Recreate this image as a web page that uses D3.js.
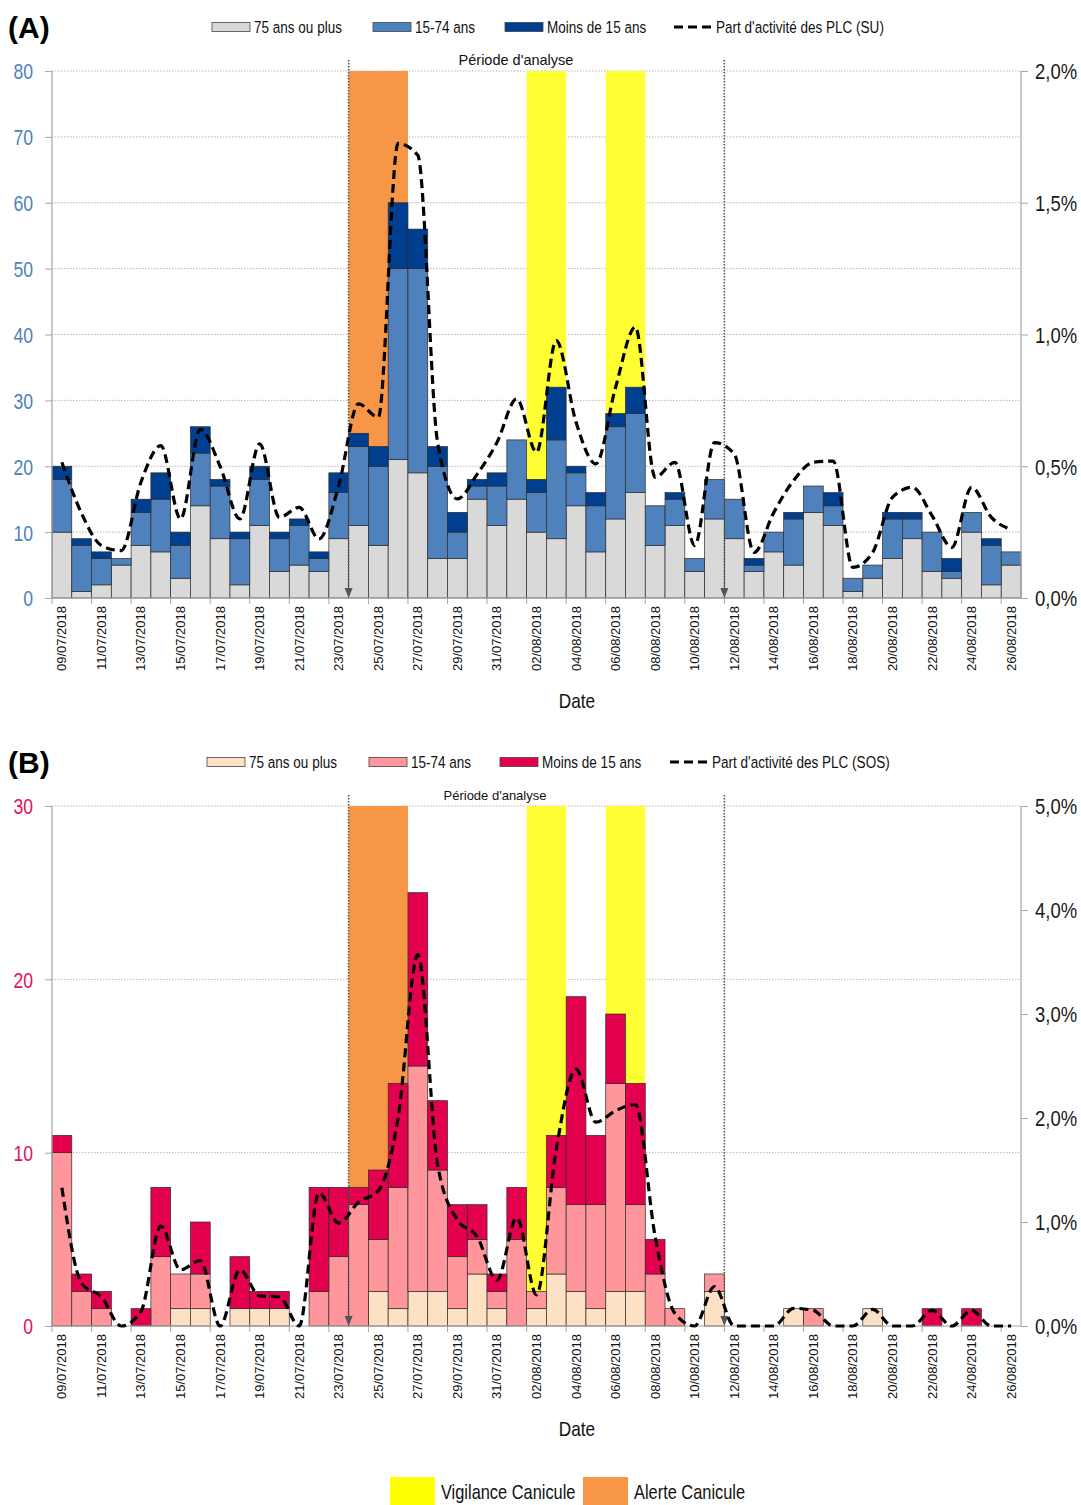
<!DOCTYPE html>
<html><head><meta charset="utf-8">
<script src="https://cdn.jsdelivr.net/npm/d3@7/dist/d3.min.js"></script>
<style>body{margin:0;background:#fff} svg{display:block}</style>
</head><body><svg id="c" width="1081" height="1505"></svg>
<script>
// ---------- DATA ----------
const dates = ["09/07/2018","10/07/2018","11/07/2018","12/07/2018","13/07/2018","14/07/2018","15/07/2018","16/07/2018","17/07/2018","18/07/2018",
"19/07/2018","20/07/2018","21/07/2018","22/07/2018","23/07/2018","24/07/2018","25/07/2018","26/07/2018","27/07/2018","28/07/2018",
"29/07/2018","30/07/2018","31/07/2018","01/08/2018","02/08/2018","03/08/2018","04/08/2018","05/08/2018","06/08/2018","07/08/2018",
"08/08/2018","09/08/2018","10/08/2018","11/08/2018","12/08/2018","13/08/2018","14/08/2018","15/08/2018","16/08/2018","17/08/2018",
"18/08/2018","19/08/2018","20/08/2018","21/08/2018","22/08/2018","23/08/2018","24/08/2018","25/08/2018","26/08/2018"];

// Panel A : SU
const suOld   = [10,1,2,5,8,7,3,14,9,2,11,4,5,4,9,11,8,21,19,6,6,15,11,15,10,9,14,7,12,16,8,11,4,12,9,4,7,5,13,11,1,3,6,9,4,3,10,2,5];
const suMid   = [8,7,4,1,5,8,5,8,8,7,7,5,6,2,7,12,12,29,31,14,4,2,6,9,6,15,5,7,14,12,6,4,2,6,6,1,3,7,4,3,2,2,6,3,6,1,3,6,2];
const suYoung = [2,1,1,0,2,4,2,4,1,1,2,1,1,1,3,2,3,10,6,3,3,1,2,0,2,8,1,2,2,4,0,1,0,0,0,1,0,1,0,2,0,0,1,1,0,2,0,1,0];
const suShare = [0.515,0.32,0.199,0.18,0.44,0.578,0.30,0.64,0.50,0.30,0.585,0.306,0.344,0.224,0.427,0.737,0.686,1.725,1.68,0.59,
                 0.376,0.47,0.59,0.756,0.553,0.977,0.667,0.509,0.80,1.028,0.458,0.515,0.199,0.59,0.547,0.173,0.325,0.446,0.515,0.52,
                 0.116,0.173,0.382,0.42,0.313,0.192,0.42,0.306,0.26];

// Panel B : SOS
const sosOld   = [0,0,0,0,0,0,1,1,0,1,1,1,0,0,0,0,2,1,2,2,1,3,1,0,1,3,2,1,2,2,0,0,0,2,0,0,0,1,0,0,0,1,0,0,0,0,0,0,0];
const sosMid   = [10,2,1,0,0,4,2,2,0,0,0,0,0,2,4,7,3,7,13,7,3,2,1,5,1,5,5,6,12,5,3,1,0,1,0,0,0,0,1,0,0,0,0,0,0,0,0,0,0];
const sosYoung = [1,1,1,0,1,4,0,3,0,3,1,1,0,6,4,1,4,6,10,4,3,2,1,3,0,3,12,4,4,7,2,0,0,0,0,0,0,0,0,0,0,0,0,0,1,0,1,0,0];
const sosShare = [1.33,0.41,0.28,0,0.14,0.96,0.54,0.63,0,0.54,0.29,0.28,0,1.28,0.99,1.19,1.30,2.0,3.57,1.55,
                  1.02,0.86,0.44,1.04,0.30,1.70,2.47,1.96,2.07,2.13,0.86,0.12,0,0.38,0,0,0,0.17,0.15,0,
                  0,0.16,0,0,0.15,0,0.15,0,0];

const ageLabels = ["75 ans ou plus","15-74 ans","Moins de 15 ans"];
const leftTicksA = [0,10,20,30,40,50,60,70,80];
const rightTicksA = [0,0.5,1.0,1.5,2.0];
const leftTicksB = [0,10,20,30];
const rightTicksB = [0,1,2,3,4,5];

// heat-wave periods (category ranges)
const alerte = [["24/07/2018","26/07/2018"]];
const vigilance = [["02/08/2018","03/08/2018"],["06/08/2018","07/08/2018"]];
const periode = ["24/07/2018","12/08/2018"]; // analysis period boundaries (left edges)

// ---------- DRAW ----------
const svg = d3.select('#c');
const SANS = "'Liberation Sans',Arial,sans-serif";
const X0 = 52, X1 = 1021;
const x = d3.scaleBand().domain(dates).range([X0, X1]).padding(0);

function fmtPct(v){ return v.toFixed(1).replace('.', ',') + '%'; }
// emulate a narrow (condensed) font: horizontal scale around the anchor point
function narrow(sel, k){
  k = k || 0.82;
  sel.each(function(){
    const xv = +(this.getAttribute('x') || 0);
    this.setAttribute('x', xv / k);
    const t = this.getAttribute('transform') || '';
    this.setAttribute('transform', (t + ` scale(${k},1)`).trim());
  });
}

function panel(cfg){
  const g = svg.append('g');
  const yL = d3.scaleLinear().domain([0, cfg.leftMax]).range([cfg.bottom, cfg.top]);
  const yR = d3.scaleLinear().domain([0, cfg.rightMax]).range([cfg.bottom, cfg.top]);

  // gridlines
  g.selectAll('.grid').data(cfg.leftTicks.filter(d=>d>0)).join('line')
    .attr('x1', X0).attr('x2', X1).attr('y1', d=>yL(d)).attr('y2', d=>yL(d))
    .attr('stroke', '#a6a6a6').attr('stroke-width', 0.8).attr('stroke-dasharray', '1.5,1.5');

  // heat-wave bands
  const band = (ranges, color) => g.selectAll(null).data(ranges).join('rect')
    .attr('x', d=>x(d[0])).attr('width', d=>x(d[1]) + x.bandwidth() - x(d[0]))
    .attr('y', cfg.top).attr('height', cfg.bottom - cfg.top).attr('fill', color);
  band(alerte, '#f79646');
  band(vigilance, '#ffff33');

  // stacked bars
  const rows = dates.map((d,i)=>({date:d, a:cfg.series[0][i], b:cfg.series[1][i], c:cfg.series[2][i]}));
  const stack = d3.stack().keys(['a','b','c'])(rows);
  stack.forEach((layer, li) => {
    g.selectAll(null).data(layer.filter(s => s[1] > s[0])).join('rect')
      .attr('x', s=>x(s.data.date)).attr('width', x.bandwidth())
      .attr('y', s=>yL(s[1])).attr('height', s=>yL(s[0]) - yL(s[1]))
      .attr('fill', cfg.colors[li]).attr('stroke', '#2b2b2b').attr('stroke-width', 0.7);
  });

  // axes lines
  g.append('line').attr('x1', X0).attr('x2', X0).attr('y1', cfg.top).attr('y2', cfg.bottom).attr('stroke', '#a6a6a6').attr('stroke-width', 1.2);
  g.append('line').attr('x1', X1).attr('x2', X1).attr('y1', cfg.top).attr('y2', cfg.bottom).attr('stroke', '#a6a6a6').attr('stroke-width', 1.2);
  g.append('line').attr('x1', X0).attr('x2', X1).attr('y1', cfg.bottom).attr('y2', cfg.bottom).attr('stroke', '#a6a6a6').attr('stroke-width', 1.2);

  // left axis
  const la = g.append('g').attr('transform', `translate(${X0},0)`)
    .call(d3.axisLeft(yL).tickValues(cfg.leftTicks).tickSize(7).tickPadding(12).tickFormat(d3.format('d')));
  la.select('.domain').remove();
  la.selectAll('line').attr('stroke', '#a6a6a6');
  la.selectAll('text').attr('fill', cfg.labelColor).style('font-family', SANS).style('font-size', '22px').attr('dy', '0.36em')
    .call(narrow, 0.8);

  // right axis
  const ra = g.append('g').attr('transform', `translate(${X1},0)`)
    .call(d3.axisRight(yR).tickValues(cfg.rightTicks).tickSize(7).tickPadding(7).tickFormat(fmtPct));
  ra.select('.domain').remove();
  ra.selectAll('line').attr('stroke', '#a6a6a6');
  ra.selectAll('text').attr('fill', '#1a1a1a').style('font-family', SANS).style('font-size', '22px').attr('dy', '0.36em')
    .call(narrow, 0.84);

  // x ticks (every two categories) and labels
  const shown = dates.filter((d,i)=> i % 2 === 0);
  g.selectAll(null).data(shown).join('line')
    .attr('x1', d=>x(d)).attr('x2', d=>x(d)).attr('y1', cfg.bottom).attr('y2', cfg.bottom + 6)
    .attr('stroke', '#a6a6a6');
  g.selectAll(null).data(shown).join('text')
    .attr('transform', d=>`translate(${x(d) + x.bandwidth()/2 + 4.5},${cfg.bottom + 8}) rotate(-90)`)
    .attr('text-anchor', 'end').style('font-family', SANS).style('font-size', '13px').attr('fill', '#111')
    .text(d=>d);

  // axis title
  g.append('text').attr('x', 577).attr('y', cfg.bottom + 110).attr('text-anchor', 'middle')
    .style('font-family', SANS).style('font-size', '21px').attr('fill', '#111').text('Date').call(narrow, 0.82);

  // analysis period dotted lines
  periode.forEach(p => {
    const px = x(p);
    g.append('line').attr('x1', px).attr('x2', px).attr('y1', cfg.top - 11).attr('y2', cfg.bottom - 4)
      .attr('stroke', '#555').attr('stroke-width', 1.6).attr('stroke-dasharray', '1.6,1.4');
    g.append('path').attr('d', `M${px-4},${cfg.bottom-10} L${px+4},${cfg.bottom-10} L${px},${cfg.bottom} Z`).attr('fill', '#555');
  });
  g.append('text').attr('x', cfg.periodX).attr('y', cfg.top - 6).attr('text-anchor', 'middle')
    .style('font-family', SANS).style('font-size', cfg.periodSize).attr('fill', '#111').text("Période d'analyse");

  // share line
  const line = d3.line().x((d,i)=>x(dates[i]) + x.bandwidth()/2).y(d=>yR(d)).curve(d3.curveMonotoneX);
  g.append('path').attr('d', line(cfg.share)).attr('fill', 'none').attr('stroke', '#000')
    .attr('stroke-width', 3.2).attr('stroke-dasharray', '9,5');

  // panel letter
  g.append('text').attr('x', 8).attr('y', cfg.letterY).style('font-family', SANS).style('font-weight', 'bold')
    .style('font-size', '30px').attr('fill', '#000').text(cfg.letter);

  // legend
  const ly = cfg.legendY;
  cfg.legendX.forEach((lx, i) => {
    if (i < 3) {
      g.append('rect').attr('x', lx).attr('y', ly - 4.5).attr('width', 38).attr('height', 9)
        .attr('fill', cfg.colors[i]).attr('stroke', '#444').attr('stroke-width', 0.8);
    } else {
      g.append('line').attr('x1', lx).attr('x2', lx + 38).attr('y1', ly).attr('y2', ly)
        .attr('stroke', '#000').attr('stroke-width', 3).attr('stroke-dasharray', '9,5');
    }
    g.append('text').attr('x', lx + 42).attr('y', ly + 6).style('font-family', SANS).style('font-size', '16.5px')
      .attr('fill', '#111').text(i < 3 ? ageLabels[i] : cfg.lineLabel).call(narrow, 0.82);
  });
}

panel({
  top: 71, bottom: 598, leftMax: 80, rightMax: 2.0,
  leftTicks: leftTicksA, rightTicks: rightTicksA,
  series: [suOld, suMid, suYoung], share: suShare,
  colors: ['#d9d9d9', '#4f81bd', '#003f8f'], labelColor: '#4f81bd',
  letter: '(A)', letterY: 38, legendY: 27, legendX: [212, 373, 505, 674],
  lineLabel: "Part d'activité des PLC (SU)", periodX: 516, periodSize: '14.5px'
});

panel({
  top: 806, bottom: 1326, leftMax: 30, rightMax: 5.0,
  leftTicks: leftTicksB, rightTicks: rightTicksB,
  series: [sosOld, sosMid, sosYoung], share: sosShare,
  colors: ['#fde1c4', '#ff969c', '#e3004f'], labelColor: '#e3105a',
  letter: '(B)', letterY: 773, legendY: 762, legendX: [207, 369, 500, 670],
  lineLabel: "Part d'activité des PLC (SOS)", periodX: 495, periodSize: '13px'
});

// bottom legend
const bl = svg.append('g');
const legendBottom = [["Vigilance Canicule", '#ffff00', 390], ["Alerte Canicule", '#f79646', 583]];
legendBottom.forEach(([t, c, lx]) => {
  bl.append('rect').attr('x', lx).attr('y', 1477).attr('width', 45).attr('height', 28).attr('fill', c);
  bl.append('text').attr('x', lx + 51).attr('y', 1499).style('font-family', SANS).style('font-size', '20px')
    .attr('fill', '#111').text(t).call(narrow, 0.82);
});
</script></body></html>
